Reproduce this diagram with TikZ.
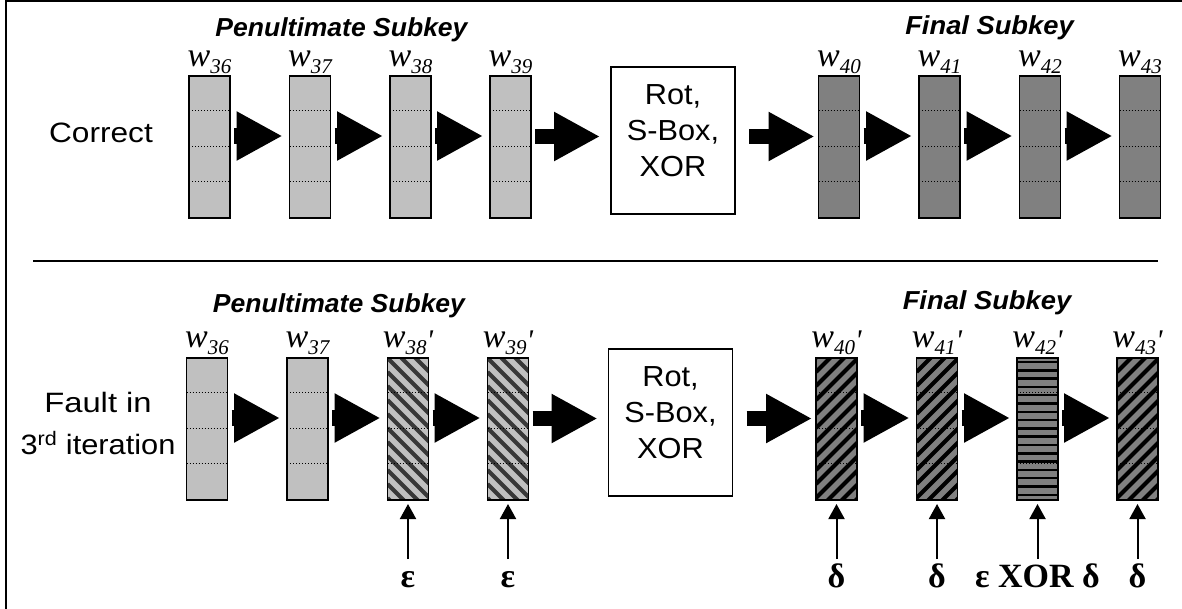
\documentclass[tikz,border=0pt]{standalone}
\usepackage{fontspec}
\setmainfont{Liberation Serif}
\newfontfamily\arial{Liberation Sans}
\usetikzlibrary{arrows.meta,calc}
\definecolor{lightg}{HTML}{C0C0C0}
\definecolor{darkg}{HTML}{808080}
\definecolor{stripeL}{HTML}{383838}

\newcommand{\sx}[2]{\scalebox{#1}[1]{#2}}
\newcommand{\wl}[1]{{\fontsize{34}{34}\selectfont\itshape w}{\fontsize{21}{21}\selectfont\itshape\raisebox{-7pt}{#1}}}
\newcommand{\wlp}[1]{\wl{#1}{\fontsize{30}{30}\selectfont\itshape\raisebox{-3pt}{\textquotesingle}}}

\newcommand{\boxdots}{%
  \foreach \f in {0.245,0.495,0.745}{%
    \draw[line width=0.9pt, dash pattern=on 1pt off 2pt]
      ($(path picture bounding box.north west)!\f!(path picture bounding box.south west)$) --
      ($(path picture bounding box.north east)!\f!(path picture bounding box.south east)$);
  }}
\newcommand{\hatchdown}{%
  \foreach \k in {-4,...,11}{%
    \draw[line width=4pt, stripeL] ([yshift={-14pt*(\k)}]path picture bounding box.north west) -- ++(60pt,-60pt);
  }}
\newcommand{\hatchup}{%
  \foreach \k in {0,...,15}{%
    \draw[line width=4pt, black] ([yshift={-14pt*(\k)}]path picture bounding box.north west) -- ++(60pt,60pt);
  }}
\newcommand{\hatchhoriz}{%
  \foreach \k in {0,...,17}{%
    \draw[line width=2.5pt, black] ([yshift={-4pt-8.3pt*(\k)}]path picture bounding box.north west) -- ++(50pt,0pt);
  }}

\tikzset{
  wbase/.style={draw, line width=1.8pt, minimum width=41pt, minimum height=142pt, inner sep=0pt, outer sep=0pt},
  wlight/.style={wbase, fill=lightg, path picture={\boxdots}},
  wdark/.style={wbase, fill=darkg, path picture={\boxdots}},
  wlighthatch/.style={wbase, fill=lightg, path picture={\hatchdown\boxdots}},
  wdarkhatch/.style={wbase, fill=darkg, path picture={\hatchup\boxdots}},
  wdarkhoriz/.style={wbase, fill=darkg, path picture={\hatchhoriz\boxdots}},
  rotbox/.style={draw, line width=1.8pt, minimum width=124pt, minimum height=147pt, inner sep=0pt, outer sep=0pt, fill=white},
  rottext/.style={anchor=north, inner sep=0pt, align=center, font=\arial\fontsize{29}{36}\selectfont},
  wlab/.style={anchor=base, inner sep=0pt},
  title/.style={anchor=base, inner sep=0pt, font=\arial\bfseries\itshape\fontsize{26}{26}\selectfont},
  rowlab/.style={inner sep=0pt, align=center, font=\arial\fontsize{28}{42}\selectfont},
  greek/.style={anchor=base, inner sep=0pt, font=\bfseries\fontsize{34}{34}\selectfont},
  fat/.style={line width=15.5pt, -{Triangle[length=46pt,width=46pt]}},
  uparr/.style={line width=2pt, -{Triangle[length=15pt,width=16pt]}},
}

\begin{document}
\begin{tikzpicture}[x=1pt,y=-1pt]
\useasboundingbox (0,0) rectangle (1182,608);
\clip (0,0) rectangle (1182,608);
% frame and separator
\draw[line width=2.5pt] (6.2,1.2) rectangle (1200,700);
\draw[line width=2pt] (33,261) -- (1158,261);

% ---------------- top row ----------------
\node[title] (tpen) at (341.5,36) {\sx{1.02}{Penultimate Subkey}};
\node[title] (tfin) at (989.5,34) {\sx{1.05}{Final Subkey}};
\node[inner sep=0pt, anchor=base, font=\arial\fontsize{28}{28}\selectfont] (correct) at (101,142) {\sx{1.13}{Correct}};

\node[wlight] (t36) at (209.5,147) {};
\node[wlight] (t37) at (310,147) {};
\node[wlight] (t38) at (410.5,147) {};
\node[wlight] (t39) at (510.5,147) {};
\node[rotbox] (trot) at (673,140.5) {};
\node[rottext] (trottxt) at (673,84.2) {\sx{1.06}{Rot,}\\\sx{1.06}{S-Box,}\\\sx{1.06}{XOR}};
\node[wdark] (t40) at (839,147) {};
\node[wdark] (t41) at (939.5,147) {};
\node[wdark] (t42) at (1040,147) {};
\node[wdark] (t43) at (1140,147) {};

\foreach \n in {36,37,38,39,40,41,42,43}{
  \node[wlab] (lt\n) at ([yshift=10pt]t\n.north) {\wl{\n}};
}

\draw[fat] ([xshift=4pt,yshift=11pt]t36.east) -- ([xshift=-7pt,yshift=11pt]t37.west);
\draw[fat] ([xshift=4pt,yshift=11pt]t37.east) -- ([xshift=-7pt,yshift=11pt]t38.west);
\draw[fat] ([xshift=4pt,yshift=11pt]t38.east) -- ([xshift=-7pt,yshift=11pt]t39.west);
\draw[fat] ([xshift=4pt,yshift=10.5pt]t39.east) -- ([xshift=-11pt,yshift=4pt]trot.west);
\draw[fat] ([xshift=14pt,yshift=4pt]trot.east) -- ([xshift=-4pt,yshift=10.5pt]t40.west);
\draw[fat] ([xshift=4pt,yshift=11pt]t40.east) -- ([xshift=-7pt,yshift=11pt]t41.west);
\draw[fat] ([xshift=4pt,yshift=11pt]t41.east) -- ([xshift=-7pt,yshift=11pt]t42.west);
\draw[fat] ([xshift=4pt,yshift=11pt]t42.east) -- ([xshift=-7pt,yshift=11pt]t43.west);

% ---------------- bottom row ----------------
\node[title] (bpen) at (339,312) {\sx{1.02}{Penultimate Subkey}};
\node[title] (bfin) at (987,309) {\sx{1.05}{Final Subkey}};
\node[rowlab, anchor=north] (fault) at (98,392) {\sx{1.17}{Fault in}\\\sx{1.1}{3\textsuperscript{rd} iteration}};

\node[wlight] (b36) at (207,429) {};
\node[wlight] (b37) at (307.5,429) {};
\node[wlighthatch] (b38) at (408,429) {};
\node[wlighthatch] (b39) at (508,429) {};
\node[rotbox] (brot) at (670.5,422.5) {};
\node[rottext] (brottxt) at (670.5,366.2) {\sx{1.06}{Rot,}\\\sx{1.06}{S-Box,}\\\sx{1.06}{XOR}};
\node[wdarkhatch] (b40) at (836.5,429) {};
\node[wdarkhatch] (b41) at (937,429) {};
\node[wdarkhoriz] (b42) at (1037.5,429) {};
\node[wdarkhatch] (b43) at (1137.5,429) {};

\node[wlab] (lb36) at ([yshift=11pt]b36.north) {\wl{36}};
\node[wlab] (lb37) at ([yshift=11pt]b37.north) {\wl{37}};
\foreach \n in {38,39,40,41,42,43}{
  \node[wlab] (lb\n) at ([yshift=11pt]b\n.north) {\wlp{\n}};
}

\draw[fat] ([xshift=4pt,yshift=11pt]b36.east) -- ([xshift=-7pt,yshift=11pt]b37.west);
\draw[fat] ([xshift=4pt,yshift=11pt]b37.east) -- ([xshift=-7pt,yshift=11pt]b38.west);
\draw[fat] ([xshift=4pt,yshift=11pt]b38.east) -- ([xshift=-7pt,yshift=11pt]b39.west);
\draw[fat] ([xshift=4pt,yshift=10.5pt]b39.east) -- ([xshift=-11pt,yshift=4pt]brot.west);
\draw[fat] ([xshift=14pt,yshift=4pt]brot.east) -- ([xshift=-4pt,yshift=10.5pt]b40.west);
\draw[fat] ([xshift=4pt,yshift=11pt]b40.east) -- ([xshift=-7pt,yshift=11pt]b41.west);
\draw[fat] ([xshift=4pt,yshift=11pt]b41.east) -- ([xshift=-7pt,yshift=11pt]b42.west);
\draw[fat] ([xshift=4pt,yshift=11pt]b42.east) -- ([xshift=-7pt,yshift=11pt]b43.west);

% fault inputs
\node[greek] (g38) at ([yshift=-87pt]b38.south) {ε};
\node[greek] (g39) at ([yshift=-87pt]b39.south) {ε};
\node[greek] (g40) at ([yshift=-87pt]b40.south) {δ};
\node[greek] (g41) at ([yshift=-87pt]b41.south) {δ};
\node[greek] (g42) at ([yshift=-87pt]b42.south) {ε XOR δ};
\node[greek] (g43) at ([yshift=-87pt]b43.south) {δ};
\foreach \n in {38,39,40,41,42,43}{
  \coordinate (u\n) at ([yshift=-59pt]b\n.south);
  \draw[uparr] (u\n) -- ([yshift=-4pt]b\n.south);
}
\end{tikzpicture}
\end{document}
